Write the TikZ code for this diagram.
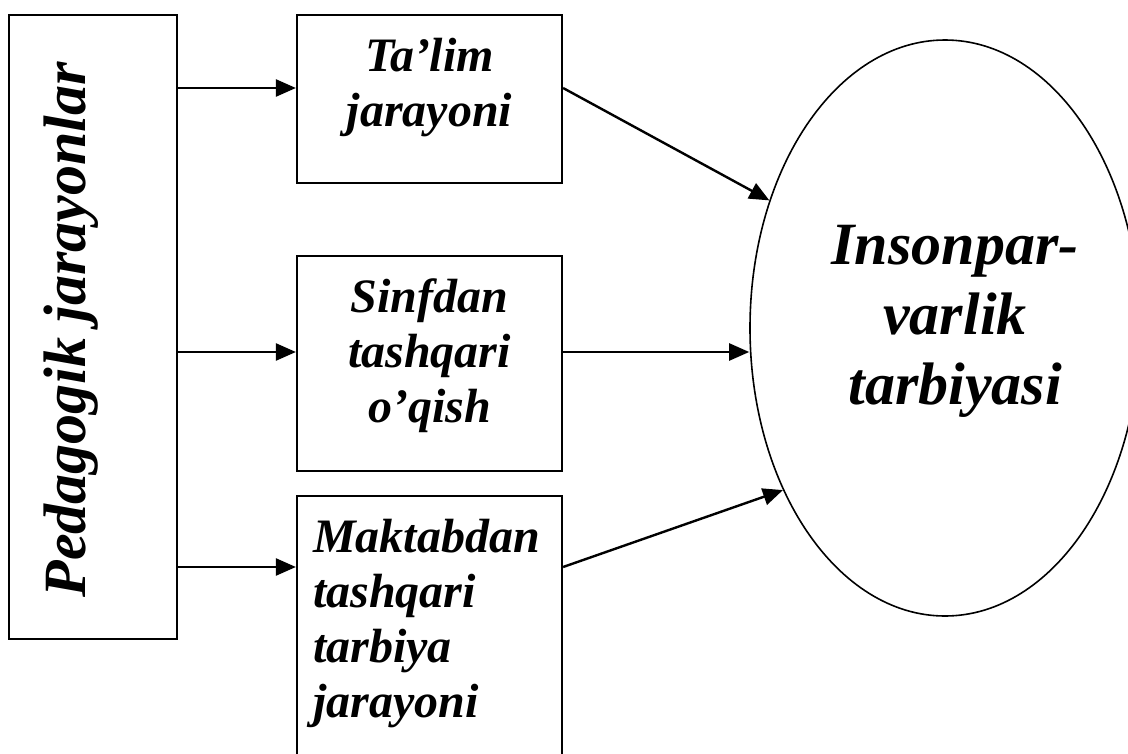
\documentclass[tikz,border=0pt]{standalone}
\usepackage{fontspec}
\setmainfont{Liberation Serif}
\usetikzlibrary{shapes.geometric,arrows.meta}
\begin{document}
\begin{tikzpicture}[x=1pt,y=-1pt,
  box/.style={draw,line width=2.2pt,inner sep=0pt,rectangle},
  lbl/.style={font=\bfseries\itshape\fontsize{48}{55}\selectfont,inner sep=0pt},
  big/.style={font=\bfseries\itshape\fontsize{60}{70}\selectfont,inner sep=0pt},
  arr/.style={line width=2.4pt,-{Triangle[length=20pt,width=17pt]}}]
\useasboundingbox (0,0) rectangle (1128,753);
\clip (0,0) rectangle (1128,753);
\node[box,minimum width=168pt,minimum height=624pt] (L) at (93,327) {};
\node[box,minimum width=265pt,minimum height=168pt] (B1) at (429.5,99) {};
\node[box,minimum width=265pt,minimum height=215pt] (B2) at (429.5,363.5) {};
\node[box,minimum width=265pt,minimum height=274pt] (B3) at (429.5,633) {};
\node[draw,ellipse,line width=1.6pt,inner sep=0pt,minimum width=390pt,minimum height=576pt] (E) at (945,328) {};
\node[big,rotate=90,anchor=base] (TL) at (85,330) {Pedagogik jarayonlar};
\node[lbl,align=center] (T1) at (429.5,88) {Ta’lim\\jarayoni};
\node[lbl,align=center] (T2) at (429.5,356) {Sinfdan\\tashqari\\o’qish};
\node[lbl,align=left,anchor=west] (T3) at (313,624) {Maktabdan\\tashqari\\tarbiya\\jarayoni};
\node[big,align=center] (TE) at (955,321) {Insonpar-\\varlik\\tarbiyasi};
\draw[arr] (L.east |- 0,88) -- (B1.west |- 0,88);
\draw[arr] (L.east |- 0,352) -- (B2.west |- 0,352);
\draw[arr] (L.east |- 0,567) -- (B3.west |- 0,567);
\draw[arr] (B1.east |- 0,88) -- (E.144);
\draw[arr] (B2.east |- 0,352) -- (E.west |- 0,352);
\draw[arr] (B3.east |- 0,567) -- (E.225);
\end{tikzpicture}
\end{document}
